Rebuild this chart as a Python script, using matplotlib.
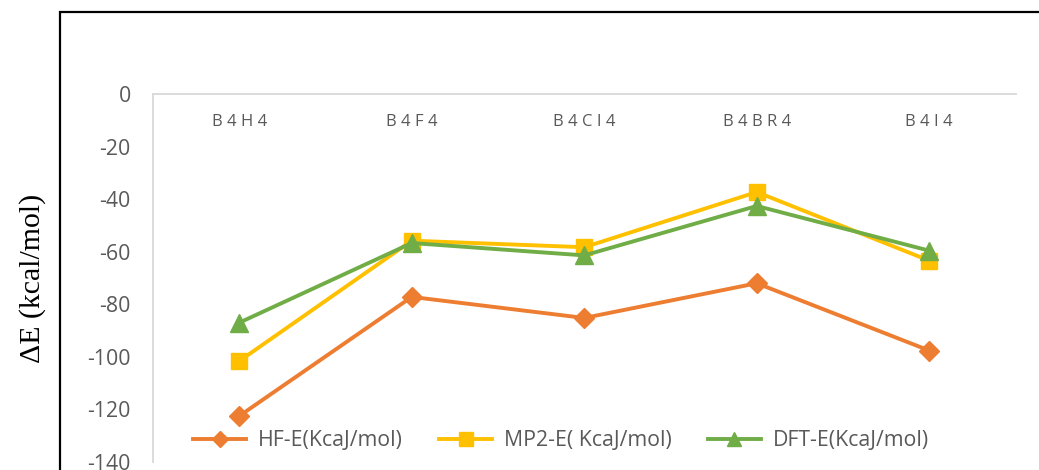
import numpy as np
import matplotlib
matplotlib.use("Agg")
import matplotlib.pyplot as plt
from matplotlib.patches import Rectangle

# data
molecules = ["B4H4", "B4F4", "B4CI4", "B4BR4", "B4I4"]
hf_e = [-122.5, -77.2, -85.2, -72.0, -97.6]
mp2_e = [-101.6, -55.8, -58.3, -37.3, -63.4]
dft_e = [-87.0, -56.7, -61.4, -42.6, -59.6]
series_names = ["HF-E(KcaJ/mol)", "MP2-E( KcaJ/mol)", "DFT-E(KcaJ/mol)"]
yticks = np.arange(-140, 1, 20)

plt.rcParams['font.family'] = ['Open Sans', 'DejaVu Sans']
grey = "#595959"

fig = plt.figure(figsize=(10.39, 4.70), dpi=100)
ax = fig.add_axes([153/1039, 1 - 462/470, 862.5/1039, 368/470])

# outer chart frame (cut off at right / bottom like the source screenshot)
fig.patches.append(Rectangle((60/1039, -0.2), 2.0, 1.2 - 12/470, transform=fig.transFigure,
                             fill=False, edgecolor="black", linewidth=1.6))

x = np.arange(len(molecules))
ax.plot(x, hf_e, color="#ED7D31", lw=2.8, marker="D", ms=10.5, label=series_names[0])
ax.plot(x, mp2_e, color="#FFC000", lw=2.8, marker="s", ms=12, label=series_names[1])
ax.plot(x, dft_e, color="#70AD47", lw=2.8, marker="^", ms=13, label=series_names[2])

ax.set_xlim(-0.5, len(molecules) - 0.5)
ax.set_ylim(-140, 0)
ax.set_yticks(yticks)
ax.set_yticklabels([str(v) for v in yticks])
ax.set_xticks(x)
ax.set_xticklabels([" ".join(m) for m in molecules])

for s in ["right", "bottom"]:
    ax.spines[s].set_visible(False)
for s in ["left", "top"]:
    ax.spines[s].set_color("#D9D9D9")
    ax.spines[s].set_linewidth(1.3)

ax.tick_params(axis="y", length=0, pad=16, labelsize=15.3, labelcolor=grey)
ax.tick_params(axis="x", length=0, top=True, bottom=False, labeltop=True, labelbottom=False,
               pad=-26, labelsize=12, labelcolor=grey)

ax.set_ylabel("ΔE (kcal/mol)", family="Liberation Serif", fontsize=21.5, labelpad=30)

ax.legend(loc="lower center", bbox_to_anchor=(0.473, -0.022), ncol=3, frameon=False,
          fontsize=15.3, labelcolor=grey, handlelength=2.5, columnspacing=1.7,
          handletextpad=0.55, markerscale=0.8)

fig.savefig("out.png", dpi=100)
